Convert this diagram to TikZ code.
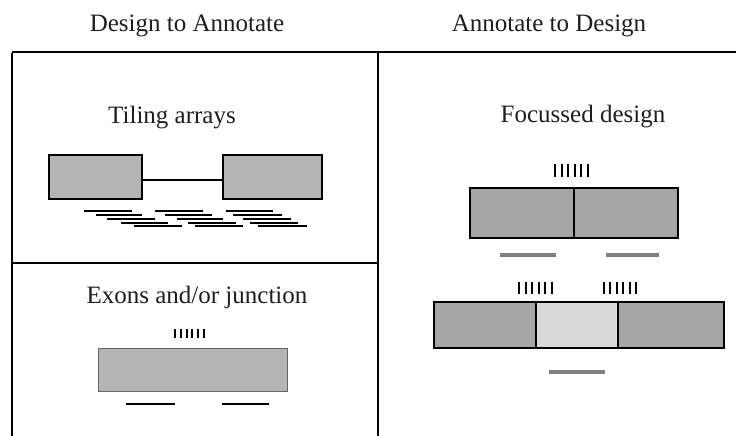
\documentclass[tikz,border=0pt]{standalone}
\usepackage{fontspec}
\setmainfont{Liberation Serif}
\definecolor{txt}{HTML}{1E1E1E}
\definecolor{boxA}{HTML}{B4B4B4}
\definecolor{boxB}{HTML}{A5A5A5}
\definecolor{boxC}{HTML}{D9D9D9}
\definecolor{barG}{HTML}{808080}
\begin{document}
\begin{tikzpicture}[x=1pt,y=-1pt,
  label/.style={font=\fontsize{25}{30}\selectfont, text=txt, anchor=base, inner sep=0},
  frameline/.style={line width=2.2pt, black},
  tilebox/.style={draw=black, line width=2pt, fill=boxA, inner sep=0},
  focbox/.style={draw=black, line width=2pt, fill=boxB, inner sep=0},
  midbox/.style={draw=black, line width=2pt, fill=boxC, inner sep=0},
  exonbox/.style={draw=black!60, line width=1pt, fill=boxA, inner sep=0},
  probe/.style={line width=2pt, black},
  graybar/.style={line width=3.5pt, barG},
  tick/.style={line width=2.1pt, black}]
\useasboundingbox (0,0) rectangle (736,436);
% headers
\node[label] (h1) at (187,32) {Design to Annotate};
\node[label] (h2) at (549,32) {Annotate to Design};
% frame
\coordinate (tl) at (12,52);
\coordinate (tr) at (736,52);
\coordinate (tm) at (378,52);
\coordinate (bl) at (12,436);
\coordinate (bm) at (378,436);
\coordinate (ml) at (12,263);
\coordinate (mm) at (378,263);
\draw[frameline] (tl) -- (tr);
\draw[frameline] ([yshift=-1pt]tl) -- (bl);
\draw[frameline] (tm) -- (bm);
\draw[frameline] (ml) -- (mm);
% Tiling arrays
\node[label] (tt) at (172,123) {Tiling arrays};
\node[tilebox, minimum width=93, minimum height=44] (t1) at (95.5,177) {};
\node[tilebox, minimum width=99, minimum height=44] (t2) at (272.5,177) {};
\draw[line width=2pt] ([yshift=-3pt]t1.east) -- ([yshift=-3pt]t2.west);
\foreach \a/\b/\y in {84/132/211, 96/142/215, 107/155/219, 121/168/222.5, 134/182/226,
                      155/203/211, 165/212/215, 177/223/219, 188/236/222.5, 195/243/226,
                      226/273/211, 233/282/215, 243/291/219, 250/298/222.5, 258/307/226}
  \draw[probe] (\a,\y) -- (\b,\y);
% Exons and/or junction
\node[label] (te) at (197,303) {Exons and/or junction};
\node[exonbox, minimum width=189, minimum height=43] (e1) at (192.5,369.5) {};
\foreach \i in {0,...,5}
  \draw[tick] (175+\i*5.8,329) -- (175+\i*5.8,338);
\draw[probe] (126,404) -- (175,404);
\draw[probe] (222,404) -- (269,404);
% Focussed design
\node[label] (tf) at (583,122) {Focussed design};
\foreach \i in {0,...,5}
  \draw[tick] (555+\i*6.6,164) -- (555+\i*6.6,177);
\node[focbox, minimum width=104, minimum height=50] (f1) at (522,213) {};
\node[focbox, minimum width=104, minimum height=50] (f2) at (626,213) {};
\draw[graybar] (500,255) -- (556,255);
\draw[graybar] (606,255) -- (659,255);
% second design
\foreach \i in {0,...,5}
  \draw[tick] (519+\i*6.6,282) -- (519+\i*6.6,294);
\foreach \i in {0,...,5}
  \draw[tick] (604+\i*6.4,282) -- (604+\i*6.4,294);
\node[focbox, minimum width=102, minimum height=46] (g1) at (485,325) {};
\node[midbox, minimum width=82, minimum height=46] (g2) at (577,325) {};
\node[focbox, minimum width=106, minimum height=46] (g3) at (671,325) {};
\draw[graybar] (549,372) -- (605,372);
\end{tikzpicture}
\end{document}
